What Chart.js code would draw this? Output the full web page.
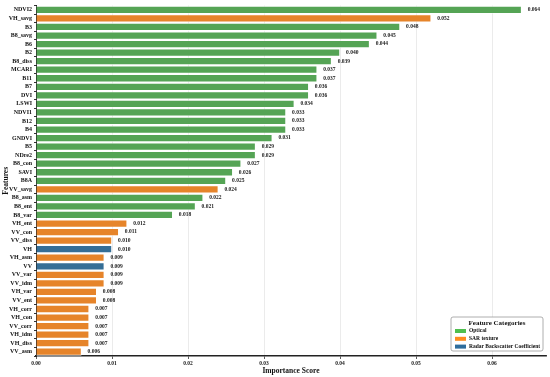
<!DOCTYPE html>
<html>
<head>
<meta charset="utf-8">
<script src="https://cdn.jsdelivr.net/npm/chart.js@4/dist/chart.umd.min.js"></script>
<style>
  html, body { margin: 0; padding: 0; background: #fff; }
  #wrap { width: 550px; height: 377px; position: relative; }
</style>
</head>
<body>
<div id="wrap"><canvas id="chart"></canvas></div>
<script>
// ─── DATA ───────────────────────────────────────────────────────
const features = ['NDVI2', 'VH_savg', 'B3', 'B8_savg', 'B6', 'B2', 'B8_diss', 'MCARI', 'B11', 'B7',
  'DVI', 'LSWI', 'NDVI1', 'B12', 'B4', 'GNDVI', 'B5', 'NDre2', 'B8_con', 'SAVI',
  'B8A', 'VV_savg', 'B8_asm', 'B8_ent', 'B8_var', 'VH_ent', 'VV_con', 'VV_diss', 'VH', 'VH_asm',
  'VV', 'VV_var', 'VV_idm', 'VH_var', 'VV_ent', 'VH_corr', 'VH_con', 'VV_corr', 'VH_idm', 'VH_diss', 'VV_asm'];

const importance = [0.0639, 0.0520, 0.0479, 0.0449, 0.0439, 0.0400, 0.0389, 0.0370, 0.0370, 0.0359,
  0.0359, 0.0340, 0.0329, 0.0329, 0.0329, 0.0311, 0.0289, 0.0289, 0.0270, 0.0259,
  0.0250, 0.0240, 0.0220, 0.0210, 0.0180, 0.0120, 0.0109, 0.0100, 0.0100, 0.0090,
  0.0090, 0.0090, 0.0090, 0.0080, 0.0080, 0.0070, 0.0070, 0.0070, 0.0070, 0.0070, 0.0060];

// O = Optical, S = SAR texture, R = Radar Backscatter Coefficient
const category = ['O', 'S', 'O', 'O', 'O', 'O', 'O', 'O', 'O', 'O',
  'O', 'O', 'O', 'O', 'O', 'O', 'O', 'O', 'O', 'O',
  'O', 'S', 'O', 'O', 'O', 'S', 'S', 'S', 'R', 'S',
  'R', 'S', 'S', 'S', 'S', 'S', 'S', 'S', 'S', 'S', 'S'];

const legendNames = ['Optical', 'SAR texture', 'Radar Backscatter Coefficient'];
const xTicks = [0, 0.01, 0.02, 0.03, 0.04, 0.05, 0.06];

// ─── STYLE ──────────────────────────────────────────────────────
const FONT = "'Liberation Serif', 'Times New Roman', serif";
const barColors = { O: '#55a455', S: '#e6842a', R: '#356e96' };
const legendColors = ['#4fbf4f', '#ff8c1f', '#2f6d9c'];

// value labels at bar ends
const valueLabels = {
  id: 'valueLabels',
  afterDatasetsDraw(chart) {
    const ctx = chart.ctx;
    const meta = chart.getDatasetMeta(0);
    ctx.save();
    ctx.font = `bold 5.5px ${FONT}`;
    ctx.fillStyle = '#222';
    ctx.textAlign = 'left';
    ctx.textBaseline = 'middle';
    meta.data.forEach((bar, i) => {
      ctx.fillText(importance[i].toFixed(3), bar.x + 6, bar.y);
    });
    ctx.restore();
  }
};

// legend box in lower right of plot
const boxLegend = {
  id: 'boxLegend',
  afterDraw(chart) {
    const { ctx, chartArea } = chart;
    const w = 92, h = 34;
    const x = chartArea.right - w - 3, y = chartArea.bottom - h - 5;
    ctx.save();
    ctx.fillStyle = 'rgba(255,255,255,0.9)';
    ctx.strokeStyle = '#9a9a9a';
    ctx.lineWidth = 0.8;
    ctx.beginPath();
    ctx.roundRect(x, y, w, h, 2);
    ctx.fill();
    ctx.stroke();
    ctx.fillStyle = '#111';
    ctx.textBaseline = 'middle';
    ctx.textAlign = 'center';
    ctx.font = `bold 7px ${FONT}`;
    ctx.fillText('Feature Categories', x + w / 2, y + 6);
    ctx.textAlign = 'left';
    ctx.font = `bold 5.5px ${FONT}`;
    legendNames.forEach((name, i) => {
      const ly = y + 14 + i * 7.8;
      ctx.fillStyle = legendColors[i];
      ctx.fillRect(x + 4, ly - 2, 11, 4);
      ctx.fillStyle = '#111';
      ctx.fillText(name, x + 18, ly);
    });
    ctx.restore();
  }
};

new Chart(document.getElementById('chart'), {
  type: 'bar',
  data: {
    labels: features,
    datasets: [{
      data: importance,
      backgroundColor: category.map(c => barColors[c]),
      borderColor: 'rgba(255,255,255,0.85)',
      borderWidth: 0.8,
      barPercentage: 0.92,
      categoryPercentage: 1,
    }],
  },
  options: {
    indexAxis: 'y',
    responsive: true,
    maintainAspectRatio: false,
    animation: false,
    layout: { padding: { top: 3, right: 4, left: 0, bottom: 0 } },
    plugins: { legend: { display: false }, tooltip: { enabled: false } },
    scales: {
      x: {
        min: 0,
        max: 0.0671,
        afterBuildTicks: (s) => { s.ticks = xTicks.map(v => ({ value: v })); },
        afterFit: (s) => { s.height = 21; },
        grid: { color: '#e6e6e6', lineWidth: 0.8, tickLength: 3, tickColor: '#333' },
        border: { color: '#222', width: 1.5 },
        ticks: {
          font: { family: FONT, size: 5.5, weight: 'bold' },
          color: '#222',
          padding: 1,
          callback: (v) => Number(v).toFixed(2),
        },
        title: {
          display: true,
          text: 'Importance Score',
          font: { family: FONT, size: 7.5, weight: 'bold' },
          color: '#111',
          padding: { top: 0, bottom: 1 },
        },
      },
      y: {
        afterFit: (s) => { s.width = 36; },
        grid: { drawOnChartArea: false, tickLength: 2, tickColor: '#333' },
        border: { color: '#222', width: 1 },
        ticks: {
          autoSkip: false,
          font: { family: FONT, size: 6, weight: 'bold' },
          color: '#111',
          padding: 2,
        },
        title: {
          display: true,
          text: 'Features',
          font: { family: FONT, size: 7.5, weight: 'bold' },
          color: '#111',
          padding: { top: 2, bottom: 0 },
        },
      },
    },
  },
  plugins: [valueLabels, boxLegend],
});
</script>
</body>
</html>
